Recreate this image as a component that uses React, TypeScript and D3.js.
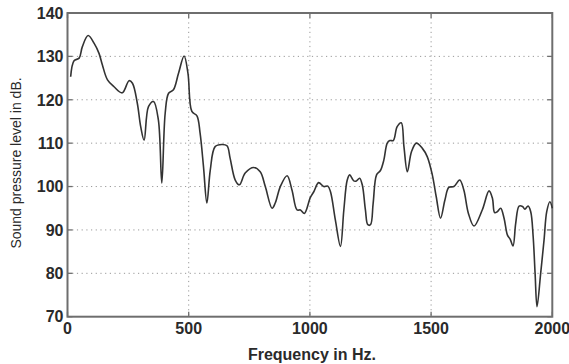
import React from "react";
import * as d3 from "d3";

const freqs = [13, 27, 48, 61, 85, 110, 130, 144, 165, 192, 226, 254, 268, 288, 302, 316, 334, 355, 375, 389, 403, 417, 437, 458, 481, 497, 513, 534, 547, 561, 575, 589, 609, 637, 658, 671, 692, 709, 733, 768, 795, 816, 844, 857, 878, 906, 926, 947, 961, 977, 1002, 1016, 1036, 1057, 1074, 1085, 1105, 1126, 1140, 1154, 1164, 1181, 1192, 1205, 1216, 1229, 1239, 1250, 1261, 1275, 1291, 1305, 1319, 1330, 1344, 1360, 1377, 1388, 1402, 1419, 1439, 1464, 1484, 1505, 1521, 1539, 1557, 1573, 1594, 1618, 1635, 1654, 1677, 1711, 1739, 1753, 1762, 1773, 1787, 1801, 1815, 1826, 1838, 1849, 1863, 1877, 1887, 1900, 1911, 1921, 1929, 1937, 1952, 1966, 1977, 1990, 2000];
const spl = [125.3, 129, 129.6, 132.2, 134.8, 133, 130.7, 128, 124.6, 123, 121.6, 124.4, 123.8, 119.2, 113.8, 110.7, 118.4, 119.6, 115.3, 100.8, 116.9, 121.5, 122.3, 126.1, 130.1, 126.1, 117.3, 116.3, 112.3, 104.6, 96.2, 103.8, 109.2, 109.7, 109.4, 106.5, 101.5, 100.4, 103.1, 104.4, 103.4, 100, 95, 96.2, 100, 102.5, 99.2, 94.6, 94.6, 93.8, 97.5, 98.8, 100.9, 100, 100.1, 98.8, 92.3, 86.2, 94.6, 101.5, 102.7, 101.3, 101.3, 101.9, 100.4, 94.6, 91.2, 91.2, 96.2, 102.7, 103.7, 106.1, 110, 110.6, 110.6, 113.8, 114.7, 109.2, 103.4, 108, 110, 108.8, 106.9, 102.7, 97.7, 92.7, 96.9, 99.8, 100, 101.5, 99.2, 93.8, 90.9, 94.6, 99, 97.3, 94, 94.2, 95, 92.7, 88.8, 87.9, 86.3, 91.5, 95.5, 95.4, 94.8, 95.5, 94.2, 88.5, 80, 72.3, 80, 87.7, 94.2, 96.5, 95];
const xTicks = [0, 500, 1000, 1500, 2000];
const yTicks = [70, 80, 90, 100, 110, 120, 130, 140];
const xLabel = "Frequency in Hz.";
const yLabel = "Sound pressure level in dB.";

export default function App() {
  const W = 569, H = 364;
  const left = 67.5, right = 552.3, top = 13, bottom = 316.7;
  const x = d3.scaleLinear().domain([0, 2000]).range([left, right]);
  const y = d3.scaleLinear().domain([70, 140]).range([bottom, top]);
  const pts = freqs.map((f, i) => [f, spl[i]] as [number, number]);
  const line = d3.line<[number, number]>().x(d => x(d[0])).y(d => y(d[1])).curve(d3.curveCatmullRom.alpha(0.5));
  const font = "'Liberation Sans', Arial, Helvetica, sans-serif";
  const grid = "#999";
  const axisCol = "#6e6e6e";
  return (
    <svg width={W} height={H} style={{ position: "absolute", left: 0, top: 0, background: "#fff" }}>
      <rect x={0} y={0} width={W} height={H} fill="#fff" />
      {xTicks.slice(1, -1).map(t => (
        <line key={"gx" + t} x1={x(t)} x2={x(t)} y1={top} y2={bottom} stroke={grid} strokeWidth={1} strokeDasharray="1.2,3.5" />
      ))}
      {yTicks.slice(1, -1).map(t => (
        <line key={"gy" + t} x1={left} x2={right} y1={y(t)} y2={y(t)} stroke={grid} strokeWidth={1} strokeDasharray="1.2,3.5" />
      ))}
      {xTicks.map(t => (
        <g key={"tx" + t}>
          <line x1={x(t)} x2={x(t)} y1={bottom} y2={bottom - 5} stroke={axisCol} strokeWidth={1.3} />
          <line x1={x(t)} x2={x(t)} y1={top} y2={top + 5} stroke={axisCol} strokeWidth={1.3} />
          <text x={x(t)} y={333.5} textAnchor="middle" fontFamily={font} fontSize={16} fontWeight="bold" fill="#2a2a2a">{t}</text>
        </g>
      ))}
      {yTicks.map(t => (
        <g key={"ty" + t}>
          <line x1={left} x2={left + 5} y1={y(t)} y2={y(t)} stroke={axisCol} strokeWidth={1.3} />
          <line x1={right} x2={right - 5} y1={y(t)} y2={y(t)} stroke={axisCol} strokeWidth={1.3} />
          <text x={63.5} y={y(t)} dy="0.36em" textAnchor="end" fontFamily={font} fontSize={16} fontWeight="bold" fill="#2a2a2a">{t}</text>
        </g>
      ))}
      <rect x={left} y={top} width={right - left} height={bottom - top} fill="none" stroke={axisCol} strokeWidth={2} />
      <path d={line(pts) || ""} fill="none" stroke="#333" strokeWidth={1.6} strokeLinejoin="round" />
      <text x={(left + right) / 2 + 2} y={360} textAnchor="middle" fontFamily={font} fontSize={16} fontWeight="bold" fill="#2a2a2a">{xLabel}</text>
      <text transform={`translate(21,${(78 + 248) / 2}) rotate(-90)`} textAnchor="middle" fontFamily={font} fontSize={14} fill="#2a2a2a">{yLabel}</text>
    </svg>
  );
}
